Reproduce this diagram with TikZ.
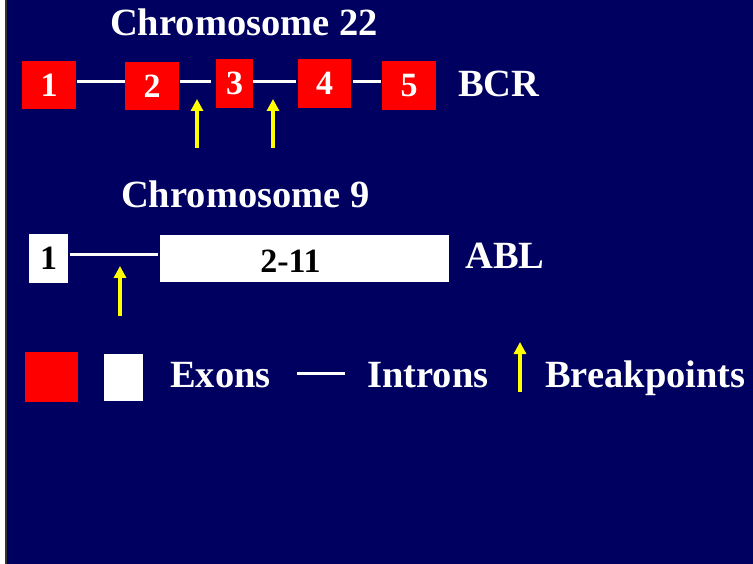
\documentclass[tikz,border=0pt]{standalone}
\usepackage{fontspec}
\setmainfont{Liberation Serif}
\usetikzlibrary{arrows.meta}
\definecolor{navy}{RGB}{0,0,96}
\definecolor{exonred}{RGB}{255,0,0}
\definecolor{bpyellow}{RGB}{255,255,0}
\begin{document}
\begin{tikzpicture}[x=1pt,y=-1pt,
  title/.style={font=\fontsize{38.5}{40}\selectfont\bfseries, text=white, inner sep=0, anchor=base west},
  redexon/.style={fill=exonred, draw=none, inner sep=0, text=white,
    font=\fontsize{34}{36}\selectfont\bfseries},
  whiteexon/.style={fill=white, draw=none, inner sep=0, text=black,
    font=\fontsize{34}{36}\selectfont\bfseries},
  intron/.style={draw=white, line width=3pt},
  breakpoint/.style={draw=bpyellow, line width=4.5pt,
    -{Triangle[width=12pt,length=12pt,fill=bpyellow]}}]
\useasboundingbox (0,0) rectangle (753,564);
% background and left margin strip
\fill[white] (0,0) rectangle (6,564);
\fill[black!80] (5.3,0) rectangle (6.8,564);
\fill[navy] (6.8,0) rectangle (753,564);

% ---- Chromosome 22 / BCR ----
\node[title] (t22) at (110,36) {Chromosome 22};
\node[redexon, minimum width=54pt, minimum height=48pt] (b1) at (49,85) {1};
\node[redexon, minimum width=54pt, minimum height=48pt] (b2) at (152,86) {2};
\node[redexon, minimum width=37pt, minimum height=49pt] (b3) at (234.5,83.5) {3};
\node[redexon, minimum width=53pt, minimum height=49pt] (b4) at (324.5,83.5) {4};
\node[redexon, minimum width=54pt, minimum height=49pt] (b5) at (409,85.5) {5};
\node[title] (bcr) at (458,97) {BCR};
\coordinate (bcrline) at (0,81.5);
\draw[intron] ([xshift=1pt]b1.east |- bcrline) -- (b2.west |- bcrline);
\draw[intron] ([xshift=1pt]b2.east |- bcrline) -- ([xshift=-5pt]b3.west |- bcrline);
\draw[intron] (b3.east |- bcrline) -- ([xshift=-2pt]b4.west |- bcrline);
\draw[intron] ([xshift=2pt]b4.east |- bcrline) -- ([xshift=-1pt]b5.west |- bcrline);
\coordinate (bp1tail) at (197,148);
\coordinate (bp1tip) at (197,99);
\coordinate (bp2tail) at (273,148);
\coordinate (bp2tip) at (273,99);
\draw[breakpoint] (bp1tail) -- (bp1tip);
\draw[breakpoint] (bp2tail) -- (bp2tip);

% ---- Chromosome 9 / ABL ----
\node[title] (t9) at (121,208) {Chromosome 9};
\node[whiteexon, minimum width=39pt, minimum height=49pt] (a1) at (48.5,258.5) {1};
\node[whiteexon, minimum width=289pt, minimum height=47pt] (a2) at (304.5,258.5) {};
\node[font=\fontsize{34}{36}\selectfont\bfseries, text=black, inner sep=0, anchor=base] (a2lab) at (290.5,273) {2-11};
\node[title] (abl) at (465,269) {ABL};
\coordinate (ablline) at (0,254.5);
\draw[intron] ([xshift=2pt]a1.east |- ablline) -- ([xshift=-2pt]a2.west |- ablline);
\coordinate (bp3tail) at (120,316);
\coordinate (bp3tip) at (120,266);
\draw[breakpoint] (bp3tail) -- (bp3tip);

% ---- legend ----
\node[fill=exonred, inner sep=0, minimum width=53pt, minimum height=50pt] (kred) at (51.5,377) {};
\node[fill=white, inner sep=0, minimum width=39pt, minimum height=47pt] (kwhite) at (123.5,377.5) {};
\node[title] (kexons) at (170,387) {Exons};
\coordinate (kl1) at (297,373);
\coordinate (kl2) at (345,373);
\draw[intron] (kl1) -- (kl2);
\node[title] (kintrons) at (367,387) {Introns};
\coordinate (kbptail) at (520,392);
\coordinate (kbptip) at (520,342);
\draw[breakpoint] (kbptail) -- (kbptip);
\node[title] (kbp) at (545,387) {Breakpoints};
\end{tikzpicture}
\end{document}
